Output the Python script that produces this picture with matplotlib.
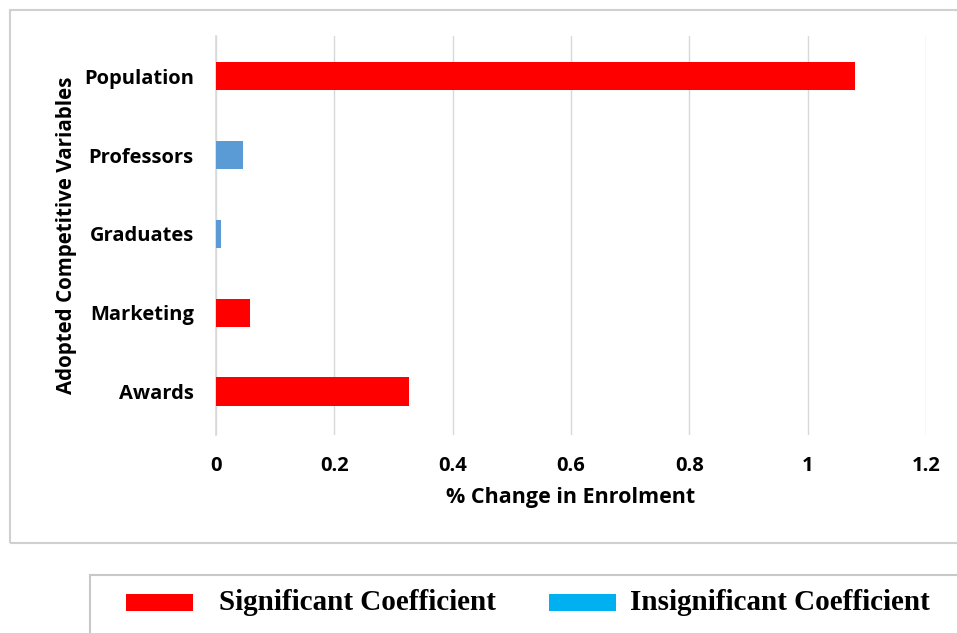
import matplotlib
matplotlib.use("Agg")
import matplotlib.pyplot as plt
from matplotlib.patches import Rectangle

categories = ["Awards", "Marketing", "Graduates", "Professors", "Population"]
values = [0.326, 0.058, 0.009, 0.046, 1.08]
significant = [True, True, False, False, True]
xticks = [0, 0.2, 0.4, 0.6, 0.8, 1, 1.2]
xtick_labels = ["0", "0.2", "0.4", "0.6", "0.8", "1", "1.2"]
legend_labels = ["Significant Coefficient", "Insignificant Coefficient"]

SIG_RED = "#FF0000"
BAR_BLUE = "#5B9BD5"
LEG_BLUE = "#00B0F0"

W, H = 957, 633
fig = plt.figure(figsize=(W / 100, H / 100), dpi=100)
fig.patch.set_facecolor("white")


def fx(px):
    return px / W


def fy(py):
    return 1 - py / H


# chart-area frame
fig.patches.append(Rectangle((fx(10), fy(543)), fx(960), 533 / H,
                             transform=fig.transFigure, fill=False,
                             edgecolor="#d0d0d0", linewidth=1.5))
# legend frame
fig.patches.append(Rectangle((fx(90), -0.05), fx(900), 0.05 + fy(575),
                             transform=fig.transFigure, fill=False,
                             edgecolor="#c8c8c8", linewidth=1.5))

ax = fig.add_axes([fx(216), fy(435), (926 - 216) / W, (435 - 36) / H])
colors = [SIG_RED if s else BAR_BLUE for s in significant]
ax.barh(range(len(categories)), values, height=0.36, color=colors, zorder=3)

ax.set_xlim(0, 1.2)
ax.set_ylim(-0.55, 4.51)
ax.set_xticks(xticks)
ax.set_xticklabels(xtick_labels)
ax.set_yticks(range(len(categories)))
ax.set_yticklabels(categories)
ax.grid(axis="x", color="#d9d9d9", linewidth=1, zorder=0)
for side in ["top", "right", "bottom"]:
    ax.spines[side].set_visible(False)
ax.spines["left"].set_color("#d9d9d9")
ax.spines["left"].set_linewidth(1.2)
ax.tick_params(axis="both", length=0, labelsize=14.5)
ax.tick_params(axis="y", pad=16)
ax.tick_params(axis="x", pad=15)
FONT = "Open Sans"
for lab in ax.get_xticklabels() + ax.get_yticklabels():
    lab.set_fontfamily(FONT)
    lab.set_fontweight("bold")

ax.set_xlabel("% Change in Enrolment", fontsize=15.5, fontfamily=FONT,
              fontweight="bold", labelpad=8)
ax.set_ylabel("Adopted Competitive Variables", fontsize=14.8, fontfamily=FONT,
              fontweight="bold", labelpad=5)

# legend entries
legend_font = {"family": "Liberation Serif", "weight": "bold", "size": 21}
entries = [(126, 193, 219, SIG_RED), (549, 616, 630, LEG_BLUE)]
for (x0, x1, tx, col), label in zip(entries, legend_labels):
    fig.patches.append(Rectangle((fx(x0), fy(611)), (x1 - x0) / W, 17 / H,
                                 transform=fig.transFigure, facecolor=col,
                                 edgecolor="none"))
    fig.text(fx(tx), fy(603), label, ha="left", va="center", **legend_font)

fig.savefig("out.png", dpi=100)
